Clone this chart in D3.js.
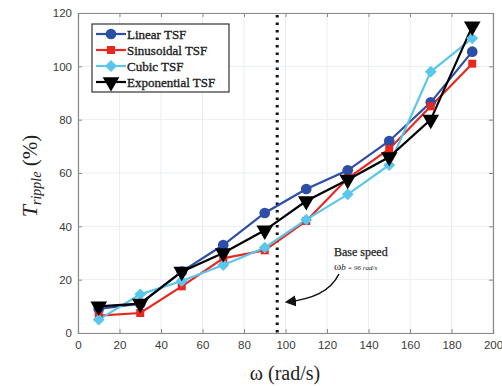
<!DOCTYPE html>
<html><head><meta charset="utf-8">
<script src="https://cdn.jsdelivr.net/npm/d3@7/dist/d3.min.js"></script>
<style>body{margin:0;background:#fff}svg{display:block}</style>
</head><body><svg id="c" width="502" height="386"></svg>
<script>
const omega = [10, 30, 50, 70, 90, 110, 130, 150, 170, 190];
const linearTSF = [9, 11, 23, 33, 45, 54, 61, 72, 86.5, 105.5];
const sinusoidalTSF = [6.5, 7.5, 17.5, 28, 31, 42, 58, 69, 85, 101];
const cubicTSF = [5, 14.5, 19.5, 25.5, 32, 42.5, 52, 63, 98, 110.5];
const exponentialTSF = [10, 11, 23, 30, 38.5, 49.5, 57.5, 66, 80, 115];
const seriesNames = ["Linear TSF", "Sinusoidal TSF", "Cubic TSF", "Exponential TSF"];
const xTicks = [0, 20, 40, 60, 80, 100, 120, 140, 160, 180, 200];
const yTicks = [0, 20, 40, 60, 80, 100, 120];
const baseSpeed = 96;

const series = [
  {name: seriesNames[0], values: linearTSF, color: "#2d4ea6", marker: "circle"},
  {name: seriesNames[1], values: sinusoidalTSF, color: "#e8281e", marker: "square"},
  {name: seriesNames[2], values: cubicTSF, color: "#5ac6ec", marker: "diamond"},
  {name: seriesNames[3], values: exponentialTSF, color: "#000000", marker: "triangle"}
];

const serif = "'Liberation Serif', 'Times New Roman', serif";
const svg = d3.select("#c");
const L = 78, R = 493, T = 13, B = 333;
const x = d3.scaleLinear().domain([0, 200]).range([L, R]);
const y = d3.scaleLinear().domain([0, 120]).range([B, T]);

// grid
const g = svg.append("g");
g.selectAll(".gx").data(xTicks).enter().append("line")
  .attr("x1", d => x(d)).attr("x2", d => x(d)).attr("y1", T).attr("y2", B)
  .attr("stroke", "#e9eef5").attr("stroke-width", 1);
g.selectAll(".gy").data(yTicks).enter().append("line")
  .attr("y1", d => y(d)).attr("y2", d => y(d)).attr("x1", L).attr("x2", R)
  .attr("stroke", "#e9eef5").attr("stroke-width", 1);

// axes
const tickFont = "'Liberation Sans', Arial, sans-serif";
const xAxis = d3.axisBottom(x).tickValues(xTicks).tickSize(-4).tickPadding(8);
const yAxis = d3.axisLeft(y).tickValues(yTicks).tickSize(-4).tickPadding(6);
const ax = svg.append("g").attr("transform", `translate(0,${B})`).call(xAxis);
const ay = svg.append("g").attr("transform", `translate(${L},0)`).call(yAxis);
const axTop = svg.append("g").attr("transform", `translate(0,${T})`).call(d3.axisTop(x).tickValues(xTicks).tickSize(-4).tickFormat(""));
const ayR = svg.append("g").attr("transform", `translate(${R},0)`).call(d3.axisRight(y).tickValues(yTicks).tickSize(-4).tickFormat(""));
[ax, ay, axTop, ayR].forEach(a => {
  a.select(".domain").attr("stroke", "#8a8a8a").attr("stroke-width", 1.2);
  a.selectAll(".tick line").attr("stroke", "#8a8a8a");
  a.selectAll("text").attr("font-family", tickFont).attr("font-size", 11.5).attr("fill", "#3a3a3a");
});

// base speed dotted line
svg.append("line").attr("x1", x(baseSpeed)).attr("x2", x(baseSpeed))
  .attr("y1", y(120) + 2).attr("y2", B)
  .attr("stroke", "#111").attr("stroke-width", 3).attr("stroke-dasharray", "2.5,5");

// series
const sym = {
  circle: d3.symbol().type(d3.symbolCircle).size(90),
  square: d3.symbol().type(d3.symbolSquare).size(64),
  diamond: d3.symbol().type(d3.symbolDiamond2 || d3.symbolDiamond).size(90),
  triangle: d3.symbol().type(d3.symbolTriangle).size(120)
};
const line = d3.line().x((d, i) => x(omega[i])).y(d => y(d));
series.forEach(s => {
  svg.append("path").attr("d", line(s.values)).attr("fill", "none")
    .attr("stroke", s.color).attr("stroke-width", 2.2);
});
series.forEach(s => {
  svg.selectAll(null).data(s.values).enter().append("path")
    .attr("d", sym[s.marker]())
    .attr("transform", (d, i) => `translate(${x(omega[i])},${y(d)})` + (s.marker === "triangle" ? " rotate(180)" : ""))
    .attr("fill", s.color);
});

// legend
const lg = svg.append("g");
lg.append("rect").attr("x", 92).attr("y", 24).attr("width", 137).attr("height", 68)
  .attr("fill", "#fff").attr("stroke", "#333").attr("stroke-width", 1.2);
series.forEach((s, i) => {
  const yy = 34 + i * 16;
  lg.append("line").attr("x1", 96).attr("x2", 126).attr("y1", yy).attr("y2", yy)
    .attr("stroke", s.color).attr("stroke-width", 2.2);
  lg.append("path").attr("d", sym[s.marker]())
    .attr("transform", `translate(111,${yy})` + (s.marker === "triangle" ? " rotate(180)" : ""))
    .attr("fill", s.color);
  lg.append("text").attr("x", 127).attr("y", yy + 4.5).text(s.name)
    .attr("font-family", serif)
    .attr("font-size", 13).attr("fill", "#222").attr("stroke", "#222").attr("stroke-width", 0.35);
});

// annotation
svg.append("text").attr("x", 334).attr("y", 256).text("Base speed")
  .attr("font-family", serif).attr("font-size", 12).attr("fill", "#222").attr("stroke", "#222").attr("stroke-width", 0.25);
const ann = svg.append("text").attr("x", 334).attr("y", 270)
  .attr("font-family", serif).attr("font-size", 9).attr("fill", "#222");
ann.append("tspan").text("ω").attr("font-size", 11);
ann.append("tspan").text("b").attr("font-style", "italic").attr("font-size", 9);
ann.append("tspan").text(" = 96 rad/s").attr("font-style", "italic").attr("font-size", 7);
svg.append("defs").append("marker").attr("id", "ah").attr("viewBox", "0 0 10 10")
  .attr("refX", 8).attr("refY", 5).attr("markerWidth", 7).attr("markerHeight", 7)
  .attr("orient", "auto").append("path").attr("d", "M0,0 L10,5 L0,10 Z").attr("fill", "#111");
svg.append("path").attr("d", "M339,274 C330,292 312,299 287,302")
  .attr("fill", "none").attr("stroke", "#111").attr("stroke-width", 1.6).attr("marker-end", "url(#ah)");

// axis labels
const yl = svg.append("text").attr("transform", "translate(37,176) rotate(-90)")
  .attr("text-anchor", "middle").attr("font-family", serif).attr("fill", "#222");
yl.append("tspan").text("T").attr("font-style", "italic").attr("font-size", 22);
yl.append("tspan").text("ripple").attr("font-style", "italic").attr("font-size", 14).attr("dy", 4);
yl.append("tspan").text(" (%)").attr("font-size", 21).attr("dy", -4);
svg.append("text").attr("x", 285).attr("y", 380).attr("text-anchor", "middle")
  .attr("font-family", serif).attr("font-size", 20).attr("fill", "#222")
  .text("ω (rad/s)");
</script></body></html>
